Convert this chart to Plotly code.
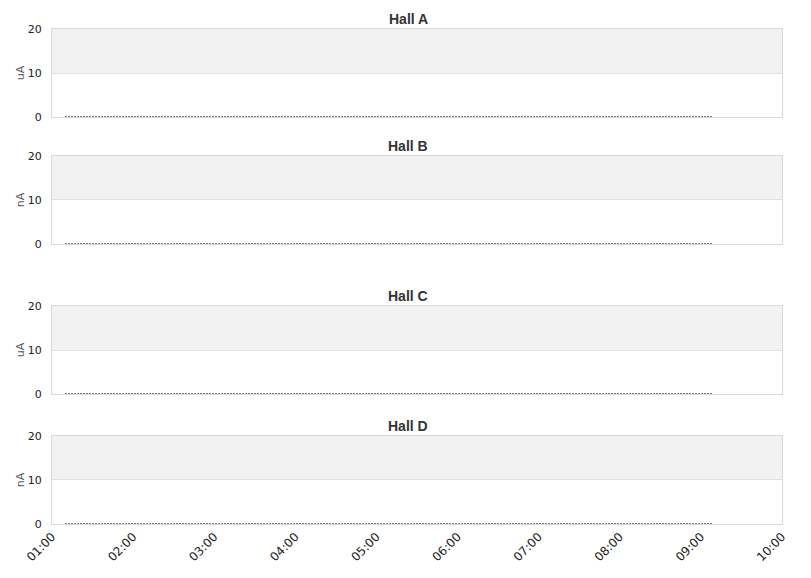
import plotly.graph_objects as go

halls = ["Hall A", "Hall B", "Hall C", "Hall D"]
units = ["uA", "nA", "uA", "nA"]
times = ["2024-01-01 01:10", "2024-01-01 09:09"]
values_a = [0, 0]
values_b = [0, 0]
values_c = [0, 0]
values_d = [0, 0]
series = [values_a, values_b, values_c, values_d]
x_range = ["2024-01-01 01:00", "2024-01-01 10:00"]
tick_vals = ["2024-01-01 %02d:00" % h for h in range(1, 11)]
tick_text = ["%02d:00" % h for h in range(1, 11)]

domains = [[0.8222, 1.0], [0.5657, 0.7434], [0.2626, 0.4404], [0.0, 0.1778]]

fig = go.Figure()
frame = "#d9d9d9"
tickfont = dict(family="DejaVu Sans", size=11, color="#222")

for i, (name, unit, vals) in enumerate(zip(halls, units, series)):
    n = "" if i == 0 else str(i + 1)
    fig.add_trace(go.Scatter(
        x=times, y=vals, mode="lines", xaxis="x" + n, yaxis="y" + n,
        line=dict(color="#000000", width=2, dash="1px,2px"),
        showlegend=False, hoverinfo="skip"))
    fig.layout["xaxis" + n] = dict(
        type="date", range=x_range, domain=[0, 1], anchor="y" + n,
        matches=None if i == 0 else "x", automargin=False,
        tickvals=tick_vals, ticktext=tick_text,
        showticklabels=(i == 3), tickangle=-45,
        tickfont=dict(family="DejaVu Sans", size=12, color="#222"),
        showgrid=False, showline=True, mirror=True, linecolor=frame, linewidth=1,
        zeroline=False, ticks="")
    fig.layout["yaxis" + n] = dict(
        range=[0, 20], domain=domains[i], anchor="x" + n, automargin=False,
        tickvals=[0, 10, 20], tickfont=tickfont,
        title=dict(text=unit, font=dict(family="DejaVu Sans", size=11, color="#555"), standoff=0),
        showgrid=True, gridcolor="#e0e0e0", showline=True, mirror=True,
        linecolor=frame, linewidth=1, zeroline=False, ticks="", ticklabelstandoff=7)
    fig.add_shape(type="rect", xref="x" + n + " domain", yref="y" + n,
                  x0=0, x1=1, y0=10, y1=20, fillcolor="#f2f2f2",
                  line=dict(width=0), layer="below")
    fig.add_annotation(text="<b>" + name + "</b>", xref="paper", yref="paper",
                       x=0.4877, y=domains[i][1], yanchor="bottom", xanchor="center",
                       yshift=0, showarrow=False,
                       font=dict(family="Liberation Sans", size=14, color="#333"))

fig.update_layout(
    width=803, height=570,
    margin=dict(l=44, r=29, t=21, b=54),
    plot_bgcolor="white", paper_bgcolor="white",
)

fig.write_html("out.html")
